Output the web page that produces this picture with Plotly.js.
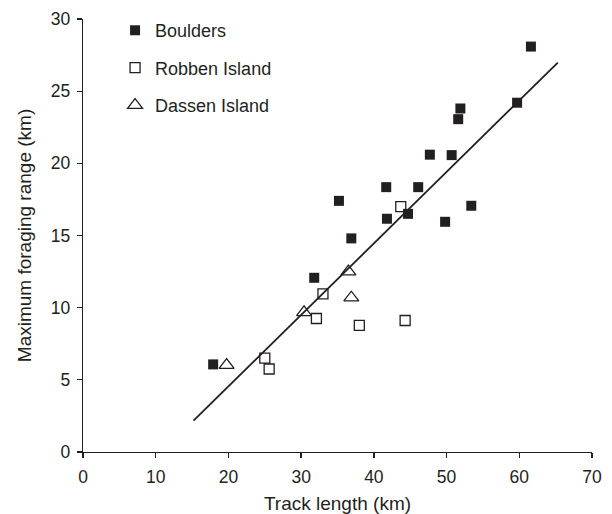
<!DOCTYPE html>
<html>
<head>
<meta charset="utf-8">
<script src="https://cdn.plot.ly/plotly-3.0.1.min.js"></script>
<style>html,body{margin:0;padding:0;background:#fff;}#chart{width:612px;height:514px;}</style>
</head>
<body>
<div id="chart"></div>
<script>
// Boulders (filled squares)
var bouldersX = [17.9, 31.8, 35.2, 36.9, 41.7, 41.8, 44.7, 46.1, 47.7, 49.8, 50.7, 51.6, 51.9, 53.4, 59.7, 61.6];
var bouldersY = [6.07, 12.07, 17.4, 14.8, 18.35, 16.16, 16.5, 18.35, 20.6, 15.95, 20.57, 23.06, 23.8, 17.06, 24.2, 28.09];
// Robben Island (open squares)
var robbenX = [25.0, 25.6, 32.1, 33.0, 38.0, 43.7, 44.3];
var robbenY = [6.5, 5.75, 9.25, 10.96, 8.77, 17.0, 9.11];
// Dassen Island (open triangles)
var dassenX = [19.75, 30.4, 36.5, 36.9];
var dassenY = [6.02, 9.67, 12.5, 10.69];
// Regression line end points (as read)
var fitX = [15.2, 65.3];
var fitY = [2.17, 26.98];
var xTicks = [0, 10, 20, 30, 40, 50, 60, 70];
var yTicks = [0, 5, 10, 15, 20, 25, 30];

var ink = '#231f20';
var fnt = 'Liberation Sans, Arial, Helvetica, sans-serif';

var traces = [
  {x: fitX, y: fitY, mode: 'lines', line: {color: ink, width: 1.8}, showlegend: false, hoverinfo: 'skip'},
  {x: bouldersX, y: bouldersY, mode: 'markers', name: 'Boulders', legendgroup: 'a',
   marker: {symbol: 'square', size: 10, color: ink, line: {width: 0}}},
  {x: robbenX, y: robbenY, mode: 'markers', name: 'Robben Island', legendgroup: 'b',
   marker: {symbol: 'square-open', size: 10, color: ink, line: {width: 1.3}}},
  {x: dassenX, y: dassenY, mode: 'markers', name: 'Dassen Island', legendgroup: 'c',
   marker: {symbol: 'triangle-up-open', size: 13, color: ink, line: {width: 1.3}}}
];

var layout = {
  width: 612, height: 514,
  margin: {l: 82.5, r: 20, t: 19, b: 61.7},
  paper_bgcolor: '#fff', plot_bgcolor: '#fff',
  font: {family: fnt, size: 17.5, color: ink},
  showlegend: true,
  legend: {x: 0.063, y: 1.016, xanchor: 'left', yanchor: 'top', bgcolor: 'rgba(0,0,0,0)',
           font: {family: fnt, size: 18, color: ink}, tracegroupgap: 11, traceorder: 'grouped'},
  xaxis: {
    range: [0, 70], tickvals: xTicks, ticktext: xTicks.map(String),
    showgrid: false, zeroline: false, showline: true, linecolor: ink, linewidth: 1.3,
    ticks: 'outside', ticklen: 5, tickwidth: 1.3, tickcolor: ink, ticklabelstandoff: 4,
    tickfont: {family: fnt, size: 17.5, color: ink},
    title: {text: 'Track length (km)', font: {family: fnt, size: 19, color: ink}, standoff: 13}
  },
  yaxis: {
    range: [0, 30], tickvals: yTicks, ticktext: yTicks.map(String),
    showgrid: false, zeroline: false, showline: true, linecolor: ink, linewidth: 1.3,
    ticks: 'outside', ticklen: 5, tickwidth: 1.3, tickcolor: ink, ticklabelstandoff: 3,
    tickfont: {family: fnt, size: 17.5, color: ink},
    title: {text: 'Maximum foraging range (km)', font: {family: fnt, size: 19, color: ink}, standoff: 13.5}
  }
};

Plotly.newPlot('chart', traces, layout, {staticPlot: true, displayModeBar: false});
</script>
</body>
</html>
